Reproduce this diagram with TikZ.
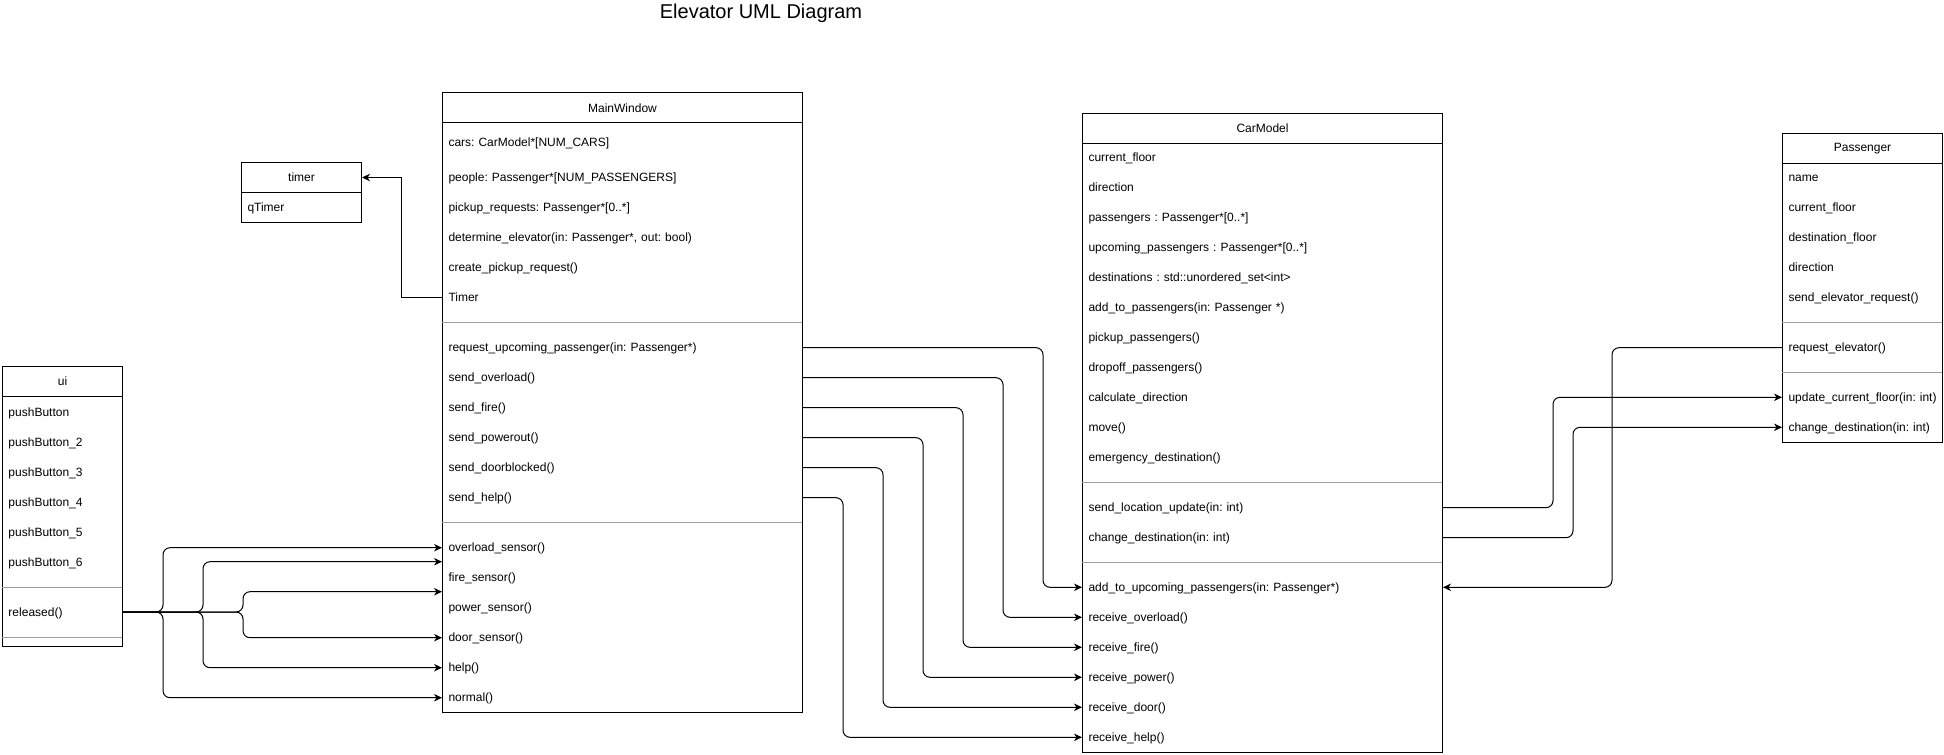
\documentclass[tikz,border=0pt]{standalone}
\usepackage{fontspec}
\setmainfont{Liberation Sans}
\usetikzlibrary{arrows.meta}
\definecolor{sepgray}{rgb}{0.62,0.62,0.62}
\frenchspacing

\begin{document}
\begin{tikzpicture}[x=1pt, y=-1pt, line width=1pt,
  >={Stealth[length=8pt,width=7.5pt,inset=2.5pt]},
  cls/.style={draw, inner sep=0pt, anchor=north west},
  head/.style={draw, inner sep=0pt, anchor=north west, minimum height=30pt,
    font=\fontsize{12}{14}\selectfont},
  row/.style={anchor=west, text width=#1, align=left, inner xsep=6pt, inner ysep=0pt,
    text height=10pt, text depth=2pt, font=\fontsize{12}{14}\selectfont,
    execute at begin node=\hbox\bgroup, execute at end node=\egroup},
  sepline/.style={draw=sepgray},
  link/.style={->, rounded corners=7pt}]
\useasboundingbox (0,0) rectangle (1944,755);
\fill[white] (0,0) rectangle (1944,755);
% 标题
\node[font=\fontsize{20}{24}\selectfont] (title) at (761,13.3) {Elevator UML Diagram};

% ui 类
\node[cls, minimum width=120pt, minimum height=280pt] (ui) at (2,366) {};
\node[head, minimum width=120pt] (ui-head) at (2,366) {ui};
\foreach \nm/\txt [count=\i from 0] in {b1/{pushButton}, b2/{pushButton\_2}, b3/{pushButton\_3},
    b4/{pushButton\_4}, b5/{pushButton\_5}, b6/{pushButton\_6}}
  \node[row=108pt] (ui-\nm) at (2,{412+30*\i}) {\txt};
\draw[sepline] (2,587) -- (122,587);
\node[row=108pt] (ui-rel) at (2,612) {released()};
\draw[sepline] (2,637) -- (122,637);

% timer 类
\node[cls, minimum width=120pt, minimum height=60pt] (tm) at (241,162) {};
\node[head, minimum width=120pt] (tm-head) at (241,162) {timer};
\node[row=108pt] (tm-q) at (241,207.7) {qTimer};

% MainWindow 类
\node[cls, minimum width=360pt, minimum height=619.7pt] (mw) at (442,92.3) {};
\node[head, minimum width=360pt] (mw-head) at (442,92.3) {MainWindow};
\node[row=348pt] (mw-cars) at (442,142.7) {cars: CarModel*[NUM\_CARS]};
\node[row=348pt] (mw-people) at (442,177.7) {people: Passenger*[NUM\_PASSENGERS]};
\node[row=348pt] (mw-pick) at (442,207.7) {pickup\_requests: Passenger*[0..*]};
\node[row=348pt] (mw-det) at (442,237.7) {determine\_elevator(in: Passenger*, out: bool)};
\node[row=348pt] (mw-create) at (442,267.7) {create\_pickup\_request()};
\node[row=348pt] (mw-timer) at (442,297.7) {Timer};
\draw[sepline] (442,322.3) -- (802,322.3);
\foreach \nm/\txt [count=\i from 0] in {req/{request\_upcoming\_passenger(in: Passenger*)},
    ovl/{send\_overload()}, fire/{send\_fire()}, pow/{send\_powerout()},
    door/{send\_doorblocked()}, help/{send\_help()}}
  \node[row=348pt] (mw-\nm) at (442,{347.7+30*\i}) {\txt};
\draw[sepline] (442,522.3) -- (802,522.3);
\foreach \nm/\txt [count=\i from 0] in {s1/{overload\_sensor()}, s2/{fire\_sensor()},
    s3/{power\_sensor()}, s4/{door\_sensor()}, s5/{help()}, s6/{normal()}}
  \node[row=348pt] (mw-\nm) at (442,{547.7+30*\i}) {\txt};

% CarModel 类
\node[cls, minimum width=360pt, minimum height=639.3pt] (cm) at (1082,112.7) {};
\node[head, minimum width=360pt] (cm-head) at (1082,112.7) {CarModel};
\foreach \txt [count=\i from 0] in {current\_floor, direction, {passengers : Passenger*[0..*]},
    {upcoming\_passengers : Passenger*[0..*]}, {destinations : std::unordered\_set<int>},
    {add\_to\_passengers(in: Passenger *)}, pickup\_passengers(), dropoff\_passengers(),
    calculate\_direction, move(), emergency\_destination()}
  \node[row=348pt] (cm-a\i) at (1082,{157.7+30*\i}) {\txt};
\draw[sepline] (1082,482.3) -- (1442,482.3);
\node[row=348pt] (cm-loc) at (1082,507.7) {send\_location\_update(in: int)};
\node[row=348pt] (cm-chg) at (1082,537.7) {change\_destination(in: int)};
\draw[sepline] (1082,562.3) -- (1442,562.3);
\foreach \nm/\txt [count=\i from 0] in {addup/{add\_to\_upcoming\_passengers(in: Passenger*)},
    rovl/{receive\_overload()}, rfire/{receive\_fire()}, rpow/{receive\_power()},
    rdoor/{receive\_door()}, rhelp/{receive\_help()}}
  \node[row=348pt] (cm-\nm) at (1082,{587.3+30*\i}) {\txt};

% Passenger 类
\node[cls, minimum width=160pt, minimum height=309.6pt] (ps) at (1782,132.7) {};
\node[head, minimum width=160pt] (ps-head) at (1782,132.7) {Passenger};
\foreach \txt [count=\i from 0] in {name, current\_floor, destination\_floor, direction,
    send\_elevator\_request()}
  \node[row=148pt] (ps-a\i) at (1782,{177.7+30*\i}) {\txt};
\draw[sepline] (1782,322.3) -- (1942,322.3);
\node[row=148pt] (ps-req) at (1782,347.7) {request\_elevator()};
\draw[sepline] (1782,372.3) -- (1942,372.3);
\node[row=148pt] (ps-upd) at (1782,397.3) {update\_current\_floor(in: int)};
\node[row=148pt] (ps-chg) at (1782,427.3) {change\_destination(in: int)};

% 连线：Timer -> timer
\draw[->] (mw-timer.west) -- ++(-41,0) |- (tm-head.east);
% 连线：released() -> 各传感器
\draw[link] (ui-rel.east) -- ++(40,0) |- (mw-s1.west);
\draw[link] (ui-rel.east) -- ++(80,0) |- ([yshift=16pt]mw-s2.west);
\draw[link] (ui-rel.east) -- ++(120,0) |- ([yshift=16pt]mw-s3.west);
\draw[link] (ui-rel.east) -- ++(120,0) |- (mw-s4.west);
\draw[link] (ui-rel.east) -- ++(80,0) |- (mw-s5.west);
\draw[link] (ui-rel.east) -- ++(40,0) |- (mw-s6.west);
% 连线：MainWindow -> CarModel
\foreach \a/\b/\d in {req/addup/240, ovl/rovl/200, fire/rfire/160, pow/rpow/120,
    door/rdoor/80, help/rhelp/40}
  \draw[link] (mw-\a.east) -- ++(\d,0) |- (cm-\b.west);
% 连线：Passenger <-> CarModel
\draw[link] (ps-req.west) -- ++(-170,0) |- (cm-addup.east);
\draw[link] (cm-loc.east) -- ++(110,0) |- (ps-upd.west);
\draw[link] (cm-chg.east) -- ++(130,0) |- (ps-chg.west);
\end{tikzpicture}
\end{document}
